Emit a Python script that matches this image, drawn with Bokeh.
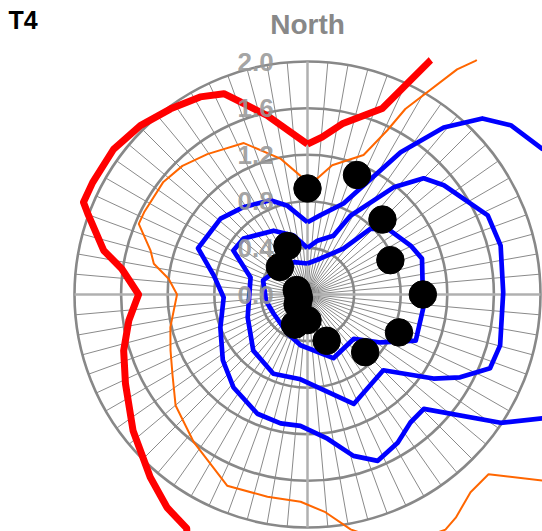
import numpy as np
from bokeh.plotting import figure
from bokeh.models import Range1d
from bokeh.core.properties import value
from bokeh.embed import file_html
from bokeh.resources import INLINE

# ---- data (angles in degrees clockwise from North, radius in chart units) ----
ring_values = [0.4, 0.8, 1.2, 1.6, 2.0]
ring_labels = ["0.0", "0.4", "0.8", "1.2", "1.6", "2.0"]
ring_label_values = [0.0, 0.4, 0.8, 1.2, 1.6, 2.0]
spoke_angles = list(range(0, 360, 5))

dot_angles = [0, 22.5, 45, 67.5, 90, 112.5, 135, 157.5, 180, 202.5, 225, 247.5, 270, 292.5, 315, 337.5]
dot_r = [0.91, 1.11, 0.91, 0.77, 0.99, 0.85, 0.70, 0.43, 0.22, 0.28, 0.12, 0.08, 0.08, 0.10, 0.335, 0.45]

red_angles = [0, 5.3, 11.5, 21.9, 27.7, 35, 60, 90, 120, 150, 180, 200, 207.3, 213.4, 220.7, 232,
              243.9, 253, 261.7, 270, 277.9, 282.2, 289.9, 292.4, 297.5, 306.9, 315.3, 323.6, 331.5,
              337.4, 340.8, 347.3, 360]
red_r = [1.29, 1.356, 1.495, 1.72, 2.27, 3.2, 4.0, 4.0, 4.0, 4.0, 4.0, 3.0, 2.26, 2.19, 2.07, 1.90,
         1.74, 1.65, 1.55, 1.45, 1.61, 1.79, 2.0, 2.08, 2.08, 2.08, 2.04, 1.98, 1.93,
         1.867, 1.75, 1.575, 1.29]

orange_angles = [0, 4.8, 10.8, 21.9, 25.9, 27.8, 33.6, 35.7, 45, 90, 120, 128.4, 134.8, 140.5, 146.4,
                 149.6, 160, 169.6, 175.3, 181.9, 191.2, 202.8, 217.6, 229.9, 239.1, 247.8, 256.6,
                 270, 276.5, 281.3, 285.7, 292.7, 296.7, 308, 315.8, 324.5, 337.2, 348.7, 356.6, 360]
orange_r = [0.96, 1.0, 1.13, 1.29, 1.565, 1.80, 2.32, 2.47, 4.0, 4.5, 3.5, 2.57, 2.19, 2.2, 2.3,
            2.34, 2.3, 2.05, 1.875, 1.78, 1.77, 1.78, 1.60, 1.48, 1.35, 1.27, 1.21,
            1.12, 1.20, 1.345, 1.40, 1.57, 1.57, 1.57, 1.54, 1.48, 1.41, 1.19, 1.02, 0.96]

blue1_angles = [0, 19.9, 38.0, 43.7, 50.5, 64.6, 72.6, 96.9, 113.1, 123.3, 133.7, 157.9, 187.8,
                207.1, 240.8, 261, 287.6, 315, 337.5, 360]
blue1_r = [0.266, 0.329, 0.50, 0.78, 0.89, 0.98, 1.03, 1.0, 1.01, 0.75, 0.55, 0.59, 0.44,
           0.376, 0.334, 0.36, 0.40, 0.33, 0.30, 0.266]

blue2_angles = [0, 10.5, 23.8, 28.6, 38.8, 45, 51.3, 66.3, 75.8, 89.4, 104.8, 112, 118.5, 123.7,
                135, 157.1, 184.7, 203.3, 224, 249, 286.6, 300.7, 311.2, 332, 346.7, 360]
blue2_r = [0.40, 0.47, 0.55, 0.77, 1.18, 1.41, 1.50, 1.69, 1.71, 1.68, 1.71, 1.69, 1.49, 1.30,
           0.92, 1.02, 0.73, 0.74, 0.67, 0.55, 0.51, 0.74, 0.73, 0.62, 0.52, 0.40]

blue3_angles = [0, 9.3, 21.6, 33.2, 39.2, 44.8, 50.2, 58.1, 75, 95, 110, 117.8, 123.6, 134.5,
                141.2, 148.7, 157.1, 164.1, 172.1, 183.1, 191.8, 202.8, 218.5, 232.2, 249.2,
                268, 281.4, 292.9, 311.1, 323.7, 338.5, 347.3, 360]
blue3_r = [0.62, 0.69, 0.84, 1.46, 1.85, 2.13, 2.27, 2.37, 3.0, 3.2, 3.0, 2.28, 1.99, 1.40,
           1.41, 1.49, 1.55, 1.44, 1.25, 1.13, 1.13, 1.11, 1.02, 0.92, 0.80,
           0.72, 0.82, 1.02, 0.99, 0.93, 0.87, 0.78, 0.62]


def to_xy(angles, radii):
    a = np.radians(np.asarray(angles, dtype=float))
    r = np.asarray(radii, dtype=float)
    return list(r * np.sin(a)), list(r * np.cos(a))


def clip_top(xs, ys, ylim):
    """Cut a polyline where it rises above the top edge of the polar plot area."""
    ox, oy = [], []
    prev_in = ys[0] <= ylim
    if prev_in:
        ox.append(xs[0]); oy.append(ys[0])
    for i in range(1, len(xs)):
        cur_in = ys[i] <= ylim
        if prev_in != cur_in:
            t = (ylim - ys[i - 1]) / (ys[i] - ys[i - 1])
            xi = xs[i - 1] + t * (xs[i] - xs[i - 1])
            ox.append(xi); oy.append(ylim)
            if prev_in:
                ox.append(np.nan); oy.append(np.nan)
        if cur_in:
            ox.append(xs[i]); oy.append(ys[i])
        prev_in = cur_in
    return ox, oy


SCALE = 116.5  # px per unit
W, H = 542, 531
CX, CY = 307, 294  # pixel position of the pole
p = figure(width=W, height=H,
           x_range=Range1d(-CX / SCALE, (W - CX) / SCALE),
           y_range=Range1d(-(H - CY) / SCALE, CY / SCALE),
           output_backend="svg", toolbar_location=None,
           x_axis_location=None, y_axis_location=None,
           min_border=0)
p.grid.visible = False
p.outline_line_color = None
p.background_fill_color = "white"

rmax = ring_values[-1]
top_clip = rmax + 0.013
# spokes
sx1, sy1 = [], []
for a in spoke_angles:
    if a % 90 == 0:
        continue
    x1, y1 = to_xy([a], [rmax])
    sx1.append(x1[0]); sy1.append(y1[0])
p.segment(x0=[0] * len(sx1), y0=[0] * len(sx1), x1=sx1, y1=sy1, line_color="#8a8a8a", line_width=1)

# rings
p.circle(x=[0] * len(ring_values), y=[0] * len(ring_values), radius=ring_values,
         fill_color=None, line_color="#888888", line_width=2.6)

# main axes cross
p.segment(x0=[-rmax, 0], y0=[0, -rmax], x1=[rmax, 0], y1=[0, rmax],
          line_color="#b0b0b0", line_width=2.5)

# contour lines
ox, oy = clip_top(*to_xy(orange_angles, orange_r), top_clip)
p.line(ox, oy, line_color="#ff6600", line_width=2)
rx, ry = clip_top(*to_xy(red_angles, red_r), top_clip)
p.line(rx, ry, line_color="#ff0000", line_width=7, line_join="round")
for ang, rr in [(blue1_angles, blue1_r), (blue2_angles, blue2_r), (blue3_angles, blue3_r)]:
    bx, by = clip_top(*to_xy(ang, rr), top_clip)
    p.line(bx, by, line_color="#0000ff", line_width=4.7, line_join="round")

# dots
dx, dy = to_xy(dot_angles, dot_r)
p.scatter(dx, dy, size=27.5, fill_color="black", line_color="black")

# ring labels
p.text(x=[-0.29] * len(ring_label_values), y=ring_label_values, text=ring_labels,
       text_align="right", text_baseline="middle", text_font=value("Liberation Sans"),
       text_font_size="26px", text_font_style="bold", text_color="#999999", text_alpha=0.9)

# titles
p.text(x=[0], y=[(CY - 24.3) / SCALE], text=["North"], text_align="center",
       text_baseline="middle", text_font=value("Liberation Sans"), text_font_size="28px",
       text_font_style="bold", text_color="#888888")
p.text(x=[(8 - CX) / SCALE], y=[(CY - 19.5) / SCALE], text=["T4"], text_align="left",
       text_baseline="middle", text_font=value("Liberation Sans"), text_font_size="25px",
       text_font_style="bold", text_color="black")

open("out.html", "w").write(file_html(p, INLINE))
